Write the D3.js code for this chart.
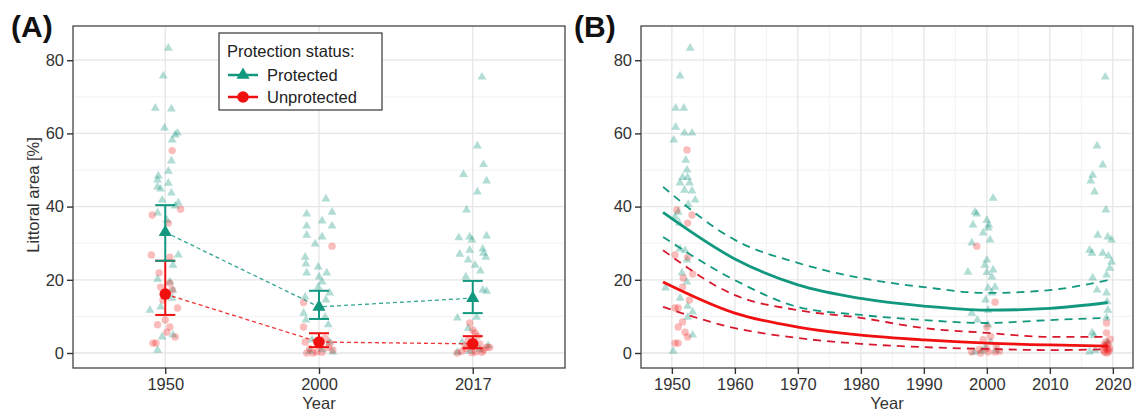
<!DOCTYPE html>
<html>
<head>
<meta charset="utf-8">
<script src="https://cdn.jsdelivr.net/npm/d3@7"></script>
<style>
  body { margin: 0; background: #fff; }
  text { font-family: "Liberation Sans", Arial, sans-serif; }
</style>
</head>
<body>
<svg id="chart" width="1138" height="419"></svg>
<script>
// Survey categories (panel A)
const surveys = ["1950", "2000", "2017"];

// Group means with 95% CI (panel A)
const protMean = [33.0, 12.6, 15.0];
const protLo   = [25.2, 9.3, 10.9];
const protHi   = [40.4, 17.0, 19.7];
const unprMean = [16.1, 3.0, 2.5];
const unprLo   = [10.4, 1.6, 1.3];
const unprHi   = [25.2, 5.4, 4.6];

// Raw points for panel A: [survey index, jitter (category steps), value]
const protA = [
  [0,0.02,83.3],[0,-0.013,75.7],[0,-0.065,66.9],[0,0.04,66.7],[0,-0.005,61.5],[0,0.08,60.1],
  [0,0.065,59.6],[0,0.045,58.2],[0,0.04,52.5],[0,0.02,49.7],[0,-0.045,48.4],[0,-0.05,47.3],
  [0,0.02,46.4],[0,-0.05,45.4],[0,-0.03,44.8],[0,0.04,43.7],[0,-0.02,41.8],[0,0.085,41.0],
  [0,-0.05,38.3],[0,0.01,36.3],[0,0.085,26.8],[0,0.05,24.0],[0,-0.05,20.2],[0,0.03,19.4],
  [0,0.05,17.2],[0,-0.1,11.7],[0,0.045,15.0],[0,-0.03,12.6],[0,-0.02,4.4],[0,-0.05,0.8],
  [0,0.05,4.9],[0,0.065,40.2],
  [1,0.045,42.1],[1,-0.08,38.0],[1,0.085,38.5],[1,0.02,36.1],[1,-0.08,34.7],[1,0.085,34.7],
  [1,-0.08,32.2],[1,0.02,31.7],[1,-0.025,29.8],[1,-0.09,26.2],[1,-0.085,24.3],[1,-0.005,23.5],
  [1,-0.08,21.9],[1,0.05,21.9],[1,0,20.8],[1,0.02,19.4],[1,-0.005,18.0],[1,0.07,16.4],
  [1,-0.09,15.3],[1,0.045,14.5],[1,-0.1,10.9],[1,0.04,9.8],[1,0.06,7.7],[1,-0.085,9.0],
  [1,-0.045,3.6],[1,0.07,3.0],[1,0.02,1.0],[1,-0.06,0.5],[1,0.09,0.3],
  [2,0.06,75.4],[2,0.03,56.6],[2,0.07,51.5],[2,-0.06,48.8],[2,0.09,47.0],[2,0.03,44.0],
  [2,-0.04,39.1],[2,-0.09,31.5],[2,-0.02,31.7],[2,0.09,32.0],[2,-0.005,30.9],[2,-0.085,27.0],
  [2,-0.02,28.1],[2,0.065,28.4],[2,0.07,27.3],[2,0.085,26.2],[2,-0.03,25.4],[2,0.015,24.0],
  [2,0.05,22.4],[2,-0.045,20.8],[2,0.065,17.2],[2,0.09,16.9],[2,-0.1,9.6],[2,0.025,9.8],
  [2,-0.03,6.8],[2,-0.07,3.0],[2,0.045,1.0],[2,-0.02,0.5],[2,-0.1,0.2],[2,0.1,2.0]
];
const unprA = [
  [0,-0.085,37.7],[0,0.1,39.3],[0,0.02,35.5],[0,-0.09,26.8],[0,0.03,26.2],[0,-0.04,21.9],
  [0,0.03,19.1],[0,0.045,17.2],[0,0.08,12.3],[0,-0.05,7.7],[0,0.03,7.1],[0,0.01,5.7],
  [0,0.065,4.4],[0,-0.08,2.7],[0,-0.06,2.7],[0,-0.015,14.5],[0,0,9.0],[0,0.045,55.3],[0,-0.03,18.0],
  [1,0.085,29.2],[1,-0.1,13.8],[1,-0.1,7.1],[1,-0.09,3.0],[1,-0.08,0.0],[1,-0.04,0.0],
  [1,0.02,0.2],[1,0.09,0.8],[1,0.07,2.7],[1,0.06,1.5],[1,-0.015,0.3],[1,-0.06,1.2],
  [1,0.04,4.0],[1,0.005,2.0],
  [2,-0.02,8.2],[2,0,6.3],[2,0.09,1.6],[2,-0.1,0.0],[2,-0.07,0.5],[2,-0.045,1.2],
  [2,0.02,0.3],[2,0.045,2.5],[2,0.07,0.8],[2,0.11,1.5],[2,-0.03,3.4],[2,0.03,4.6],
  [2,-0.05,2.0],[2,-0.005,0.1],[2,0.06,0.2],[2,0.015,5.5]
];

// Raw points for panel B: [year, value]
const protB = [
  [1952.9,83.3],[1951.3,75.7],[1950.6,66.9],[1951.9,66.9],[1950.6,61.7],[1952.0,60.1],
  [1953.2,60.1],[1950.3,58.2],[1952.2,52.7],[1952.4,50.0],[1951.7,48.0],[1952.5,48.0],
  [1951.3,46.5],[1952.8,46.5],[1952.0,44.5],[1953.2,44.3],[1953.7,41.8],[1950.5,37.2],
  [1951.0,38.5],[1951.3,28.4],[1952.1,28.0],[1952.4,25.4],[1951.6,21.9],[1952.4,19.4],
  [1949.0,17.8],[1951.3,15.0],[1952.5,12.8],[1953.3,11.2],[1952.5,9.8],[1953.3,4.9],
  [1950.2,0.5],[1952.6,40.6],[1951.2,35.5],
  [2001.0,42.3],[1998.1,38.5],[1998.4,38.0],[2000.0,36.3],[2000.3,35.0],[1997.8,35.0],
  [2000.2,34.2],[1999.4,32.8],[2000.5,30.9],[1997.6,30.1],[2000.0,25.4],[1999.7,24.0],
  [2001.0,22.7],[1997.0,22.1],[2000.0,22.0],[2000.8,20.8],[2001.3,18.0],[2000.2,17.8],
  [2000.8,16.4],[1997.6,10.9],[2000.2,11.7],[2000.2,7.7],[1999.7,1.4],[1999.2,0.5],
  [2000.6,3.0],[1998.0,0.2],[2001.5,0.8],[1999.8,14.5],[1998.5,9.0],
  [2018.8,75.4],[2017.5,56.6],[2018.4,51.4],[2016.8,48.6],[2016.5,47.0],[2017.1,44.0],
  [2018.9,39.1],[2017.6,32.2],[2019.2,31.7],[2019.8,30.9],[2016.3,28.1],[2016.7,27.3],
  [2018.4,27.3],[2019.8,24.9],[2019.5,23.2],[2019.0,21.3],[2016.8,20.5],[2017.5,17.2],
  [2019.0,16.4],[2019.0,9.6],[2019.2,11.7],[2016.7,5.5],[2017.0,4.8],[2016.3,0.3],
  [2017.2,0.8],[2019.1,14.0],[2019.3,26.5],[2019.1,3.0]
];
const unprB = [
  [1952.4,55.5],[1953.2,37.7],[1950.8,39.1],[1952.5,35.5],[1950.5,26.8],[1952.5,26.2],
  [1953.3,21.6],[1951.7,18.0],[1951.0,12.3],[1950.5,12.3],[1951.7,8.5],[1951.0,7.1],
  [1952.1,5.7],[1952.5,4.4],[1950.5,2.7],[1951.0,2.7],[1952.8,14.5],[1951.8,20.5],
  [1998.4,29.2],[2001.3,13.9],[2000.0,7.1],[1999.4,3.6],[1997.6,0.3],[2000.2,0.3],
  [2001.3,0.3],[2000.0,1.2],[2001.5,2.0],[1998.8,1.0],[1999.0,0.0],[2000.6,4.5],[2002.0,0.5],
  [2019.0,8.2],[2019.0,5.5],[2018.9,3.0],[2019.0,2.0],[2019.2,1.0],[2018.7,0.2],
  [2019.4,0.5],[2018.8,1.5],[2019.3,2.5],[2019.1,0.0],[2018.5,0.8],[2019.5,1.2],
  [2019.6,3.8],[2018.6,2.2]
];

// Model fits (panel B)
const fitYears = [1948.6, 1960, 1970, 1980, 1990, 2000, 2010, 2019.2];
const protFit  = [38.4, 25.7, 18.6, 14.9, 12.8, 11.7, 12.2, 13.8];
const protFitHi = [45.4, 30.9, 24.6, 20.5, 18.0, 16.4, 17.2, 19.9];
const protFitLo = [31.7, 19.9, 12.6, 10.4, 9.0, 8.2, 9.0, 9.6];
const unprFit  = [19.4, 10.9, 7.1, 4.9, 3.6, 2.7, 2.2, 1.9];
const unprFitHi = [28.1, 15.8, 11.7, 9.6, 6.8, 5.5, 4.4, 4.4];
const unprFitLo = [12.6, 6.8, 4.1, 2.5, 1.6, 1.1, 0.8, 1.0];

const yTicks = [0, 20, 40, 60, 80];
const yMinor = [10, 30, 50, 70];
const yearTicks = [1950, 1960, 1970, 1980, 1990, 2000, 2010, 2020];
const yearMinor = [1955, 1965, 1975, 1985, 1995, 2005, 2015];

const green = "#12987f";
const red = "#f01010";
const redDark = "#d8182c";

const svg = d3.select("#chart");
const plotTop = 26, plotBot = 368;
const y = d3.scaleLinear().domain([-4.1, 89.35]).range([plotBot, plotTop]);

const triangle = s => d3.symbol(d3.symbolTriangle, s)();

function frame(x0, x1, vGrid, vMinor) {
  const g = svg.append("g");
  yMinor.forEach(v => g.append("line").attr("x1", x0).attr("x2", x1)
    .attr("y1", y(v)).attr("y2", y(v)).attr("stroke", "#f2f2f2").attr("stroke-width", 1));
  vMinor.forEach(v => g.append("line").attr("x1", v).attr("x2", v)
    .attr("y1", plotTop).attr("y2", plotBot).attr("stroke", "#f2f2f2").attr("stroke-width", 1));
  yTicks.forEach(v => g.append("line").attr("x1", x0).attr("x2", x1)
    .attr("y1", y(v)).attr("y2", y(v)).attr("stroke", "#e6e6e6").attr("stroke-width", 1.3));
  vGrid.forEach(v => g.append("line").attr("x1", v).attr("x2", v)
    .attr("y1", plotTop).attr("y2", plotBot).attr("stroke", "#e6e6e6").attr("stroke-width", 1.3));
  return g;
}

function axes(x0, x1, xScale, ticks, fmt) {
  svg.append("rect").attr("x", x0).attr("y", plotTop).attr("width", x1 - x0).attr("height", plotBot - plotTop)
    .attr("fill", "none").attr("stroke", "#444").attr("stroke-width", 1.3);
  const ay = svg.append("g").attr("transform", `translate(${x0},0)`)
    .call(d3.axisLeft(y).tickValues(yTicks).tickSize(6).tickPadding(3));
  const ax = svg.append("g").attr("transform", `translate(0,${plotBot})`)
    .call(d3.axisBottom(xScale).tickValues(ticks).tickSize(6).tickPadding(4).tickFormat(fmt));
  [ax, ay].forEach(a => {
    a.select(".domain").remove();
    a.selectAll(".tick line").attr("stroke", "#333").attr("stroke-width", 1.4);
    a.selectAll("text").attr("fill", "#333").style("font-size", "16.5px")
      .style("font-family", "'Liberation Sans', Arial, sans-serif");
  });
  svg.append("text").attr("x", (x0 + x1) / 2).attr("y", 409).attr("text-anchor", "middle")
    .attr("fill", "#333").style("font-size", "16.5px").text("Year");
}

// ---------- Panel A ----------
const ax0 = 73, ax1 = 565;
const xA = d3.scalePoint().domain(surveys).range([ax0, ax1]).padding(0.6);
const stepA = xA.step();
const px = (i, j) => xA(surveys[i]) + j * stepA;

frame(ax0, ax1, surveys.map(s => xA(s)), []);
const gA = svg.append("g");

gA.selectAll(".pt").data(protA).enter().append("path")
  .attr("d", triangle(34))
  .attr("transform", d => `translate(${px(d[0], d[1])},${y(d[2])})`)
  .attr("fill", green).attr("opacity", 0.33);
gA.selectAll(".pc").data(unprA).enter().append("circle")
  .attr("cx", d => px(d[0], d[1])).attr("cy", d => y(d[2])).attr("r", 3.7)
  .attr("fill", red).attr("opacity", 0.28);

function summary(mean, lo, hi, col, isTri) {
  const line = d3.line().x((d, i) => xA(surveys[i])).y(d => y(d));
  gA.append("path").attr("d", line(mean)).attr("fill", "none").attr("stroke", col)
    .attr("stroke-width", 1.3).attr("stroke-dasharray", "4,3").attr("opacity", 0.85);
  const cap = 0.065 * stepA;
  mean.forEach((m, i) => {
    const cx = xA(surveys[i]);
    const g = gA.append("g").attr("stroke", col).attr("stroke-width", 2);
    g.append("line").attr("x1", cx).attr("x2", cx).attr("y1", y(lo[i])).attr("y2", y(hi[i]));
    g.append("line").attr("x1", cx - cap).attr("x2", cx + cap).attr("y1", y(lo[i])).attr("y2", y(lo[i]));
    g.append("line").attr("x1", cx - cap).attr("x2", cx + cap).attr("y1", y(hi[i])).attr("y2", y(hi[i]));
    if (isTri) {
      gA.append("path").attr("d", triangle(75)).attr("transform", `translate(${cx},${y(m)})`).attr("fill", col);
    } else {
      gA.append("circle").attr("cx", cx).attr("cy", y(m)).attr("r", 5.8).attr("fill", col);
    }
  });
}
summary(unprMean, unprLo, unprHi, red, false);
summary(protMean, protLo, protHi, green, true);

axes(ax0, ax1, xA, surveys, d => d);

const midY = (plotTop + plotBot) / 2 - 2;
svg.append("text").attr("x", 33).attr("y", midY)
  .attr("transform", `rotate(-90,33,${midY})`)
  .attr("text-anchor", "middle").attr("dy", "0.35em").attr("fill", "#333")
  .style("font-size", "16.5px").text("Littoral area [%]");

// Legend
const lg = svg.append("g").attr("transform", "translate(219,33)");
lg.append("rect").attr("width", 163).attr("height", 77).attr("fill", "#fff")
  .attr("stroke", "#444").attr("stroke-width", 1.3);
lg.append("text").attr("x", 8).attr("y", 24).attr("fill", "#222").style("font-size", "16.5px")
  .text("Protection status:");
[["Protected", green, true, 42], ["Unprotected", red, false, 64]].forEach(([lab, col, tri, ly]) => {
  lg.append("line").attr("x1", 9).attr("x2", 39).attr("y1", ly).attr("y2", ly)
    .attr("stroke", col).attr("stroke-width", 2.5);
  if (tri) lg.append("path").attr("d", triangle(75)).attr("transform", `translate(24,${ly})`).attr("fill", col);
  else lg.append("circle").attr("cx", 24).attr("cy", ly).attr("r", 5.8).attr("fill", col);
  lg.append("text").attr("x", 48).attr("y", ly).attr("dy", "0.36em").attr("fill", "#222")
    .style("font-size", "16.5px").text(lab);
});

// ---------- Panel B ----------
const bx0 = 641, bx1 = 1133;
const xB = d3.scaleLinear().domain([1945.1, 2023.2]).range([bx0, bx1]);
frame(bx0, bx1, yearTicks.map(xB), yearMinor.map(xB));
const gB = svg.append("g");

gB.selectAll(".pt").data(protB).enter().append("path")
  .attr("d", triangle(34))
  .attr("transform", d => `translate(${xB(d[0])},${y(d[1])})`)
  .attr("fill", green).attr("opacity", 0.33);
gB.selectAll(".pc").data(unprB).enter().append("circle")
  .attr("cx", d => xB(d[0])).attr("cy", d => y(d[1])).attr("r", 3.7)
  .attr("fill", red).attr("opacity", 0.28);

const fitLine = d3.line().x((d, i) => xB(fitYears[i])).y(d => y(d)).curve(d3.curveMonotoneX);
[[protFitHi, green, true], [protFitLo, green, true], [unprFitHi, redDark, true], [unprFitLo, redDark, true],
 [protFit, green, false], [unprFit, red, false]].forEach(([vals, col, dashed]) => {
  gB.append("path").attr("d", fitLine(vals)).attr("fill", "none").attr("stroke", col)
    .attr("stroke-width", dashed ? 1.8 : 2.8)
    .attr("stroke-dasharray", dashed ? "8,6" : null);
});

axes(bx0, bx1, xB, yearTicks, d3.format("d"));

// Panel tags
svg.append("text").attr("x", 11).attr("y", 37).attr("fill", "#111")
  .style("font-size", "30px").style("font-weight", "bold").text("(A)");
svg.append("text").attr("x", 574).attr("y", 37).attr("fill", "#111")
  .style("font-size", "30px").style("font-weight", "bold").text("(B)");
</script>
</body>
</html>
